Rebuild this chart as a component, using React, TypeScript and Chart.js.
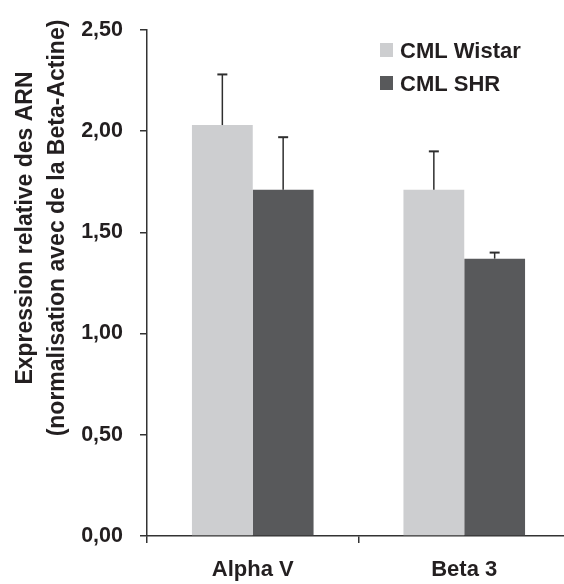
import React, { useEffect, useRef } from "react";
import { Chart, registerables } from "chart.js";

Chart.register(...registerables);

const categories = ["Alpha V", "Beta 3"];
const seriesNames = ["CML Wistar", "CML SHR"];
const wistarValues = [2.03, 1.71];
const shrValues = [1.71, 1.37];
const wistarErrors = [0.25, 0.19];
const shrErrors = [0.26, 0.03];
const yTitleLines = ["Expression relative des ARN", "(normalisation avec de la Beta-Actine)"];
const yMin = 0;
const yMax = 2.5;
const yStep = 0.5;

const LIGHT = "#CDCED0";
const DARK = "#58595B";
const AXIS = "#333333";
const TEXT = "#231F20";
const FONT_FAMILY = "'Liberation Sans', Arial, Helvetica, sans-serif";

const errorBarPlugin = {
  id: "errorBars",
  afterDatasetsDraw(chart: any) {
    const ctx = chart.ctx;
    const errs = [wistarErrors, shrErrors];
    chart.data.datasets.forEach((ds: any, di: number) => {
      const meta = chart.getDatasetMeta(di);
      meta.data.forEach((bar: any, i: number) => {
        const v = ds.data[i];
        const e = errs[di][i];
        const yScale = chart.scales.y;
        const y0 = yScale.getPixelForValue(v);
        const y1 = yScale.getPixelForValue(v + e);
        const x = bar.x;
        ctx.save();
        ctx.strokeStyle = "#2e2e2e";
        ctx.lineWidth = 1.5;
        ctx.beginPath();
        ctx.moveTo(x, y0);
        ctx.lineTo(x, y1);
        ctx.stroke();
        ctx.lineWidth = 2;
        ctx.beginPath();
        ctx.moveTo(x - 5, y1);
        ctx.lineTo(x + 5, y1);
        ctx.stroke();
        ctx.restore();
      });
    });
  },
};

const customLegendPlugin = {
  id: "customLegend",
  afterDraw(chart: any) {
    const ctx = chart.ctx;
    ctx.save();
    ctx.font = `bold 22px ${FONT_FAMILY}`;
    ctx.textBaseline = "alphabetic";
    ctx.textAlign = "left";
    chart.data.datasets.forEach((ds: any, i: number) => {
      const top = 43 + i * 33;
      ctx.fillStyle = ds.backgroundColor;
      ctx.fillRect(380, top, 13, 14);
      ctx.fillStyle = TEXT;
      ctx.fillText(ds.label, 400, top + 15);
    });
    ctx.restore();
  },
};

const yTitlePlugin = {
  id: "yTitle",
  afterDraw(chart: any) {
    const ctx = chart.ctx;
    ctx.save();
    ctx.font = `bold 23px ${FONT_FAMILY}`;
    ctx.fillStyle = TEXT;
    ctx.textAlign = "center";
    ctx.textBaseline = "alphabetic";
    yTitleLines.forEach((line, i) => {
      ctx.save();
      ctx.translate(32 + i * 32, 228);
      ctx.rotate(-Math.PI / 2);
      ctx.fillText(line, 0, 0);
      ctx.restore();
    });
    ctx.restore();
  },
};

export default function App() {
  const canvasRef = useRef<HTMLCanvasElement | null>(null);

  useEffect(() => {
    if (!canvasRef.current) return;
    const chart = new Chart(canvasRef.current, {
      type: "bar",
      data: {
        labels: categories,
        datasets: [
          {
            label: seriesNames[0],
            data: wistarValues,
            backgroundColor: LIGHT,
            borderWidth: 0,
          },
          {
            label: seriesNames[1],
            data: shrValues,
            backgroundColor: DARK,
            borderWidth: 0,
          },
        ],
      },
      options: {
        responsive: false,
        animation: false,
        devicePixelRatio: 1,
        layout: { padding: { top: 29, right: 0, bottom: 0, left: 0 } },
        datasets: {
          bar: { categoryPercentage: 0.575, barPercentage: 1.0 },
        },
        plugins: {
          legend: { display: false },
          tooltip: { enabled: false },
        },
        scales: {
          x: {
            type: "category",
            offset: true,
            afterFit: (scale: any) => {
              scale.height = 48;
            },
            grid: {
              offset: true,
              drawOnChartArea: false,
              drawTicks: true,
              tickLength: 7,
              color: AXIS,
              lineWidth: 1.5,
            },
            border: { display: true, color: AXIS, width: 1.5 },
            ticks: {
              color: TEXT,
              padding: 14,
              font: { family: FONT_FAMILY, size: 22, weight: "bold" },
            },
          },
          y: {
            min: yMin,
            max: yMax,
            afterFit: (scale: any) => {
              scale.width = 147;
            },
            grid: {
              drawOnChartArea: false,
              drawTicks: true,
              tickLength: 7,
              color: AXIS,
              lineWidth: 1.5,
            },
            border: { display: true, color: AXIS, width: 1.5 },
            ticks: {
              stepSize: yStep,
              color: TEXT,
              padding: 17,
              font: { family: FONT_FAMILY, size: 21.5, weight: "bold" },
              callback: (v: any) => Number(v).toFixed(2).replace(".", ","),
            },
          },
        },
      },
      plugins: [errorBarPlugin, customLegendPlugin, yTitlePlugin],
    });
    return () => chart.destroy();
  }, []);

  return (
    <div
      style={{
        position: "absolute",
        left: 0,
        top: 0,
        width: 564,
        height: 584,
        overflow: "hidden",
        background: "#ffffff",
      }}
    >
      <canvas ref={canvasRef} width={570} height={584} style={{ display: "block" }} />
    </div>
  );
}
